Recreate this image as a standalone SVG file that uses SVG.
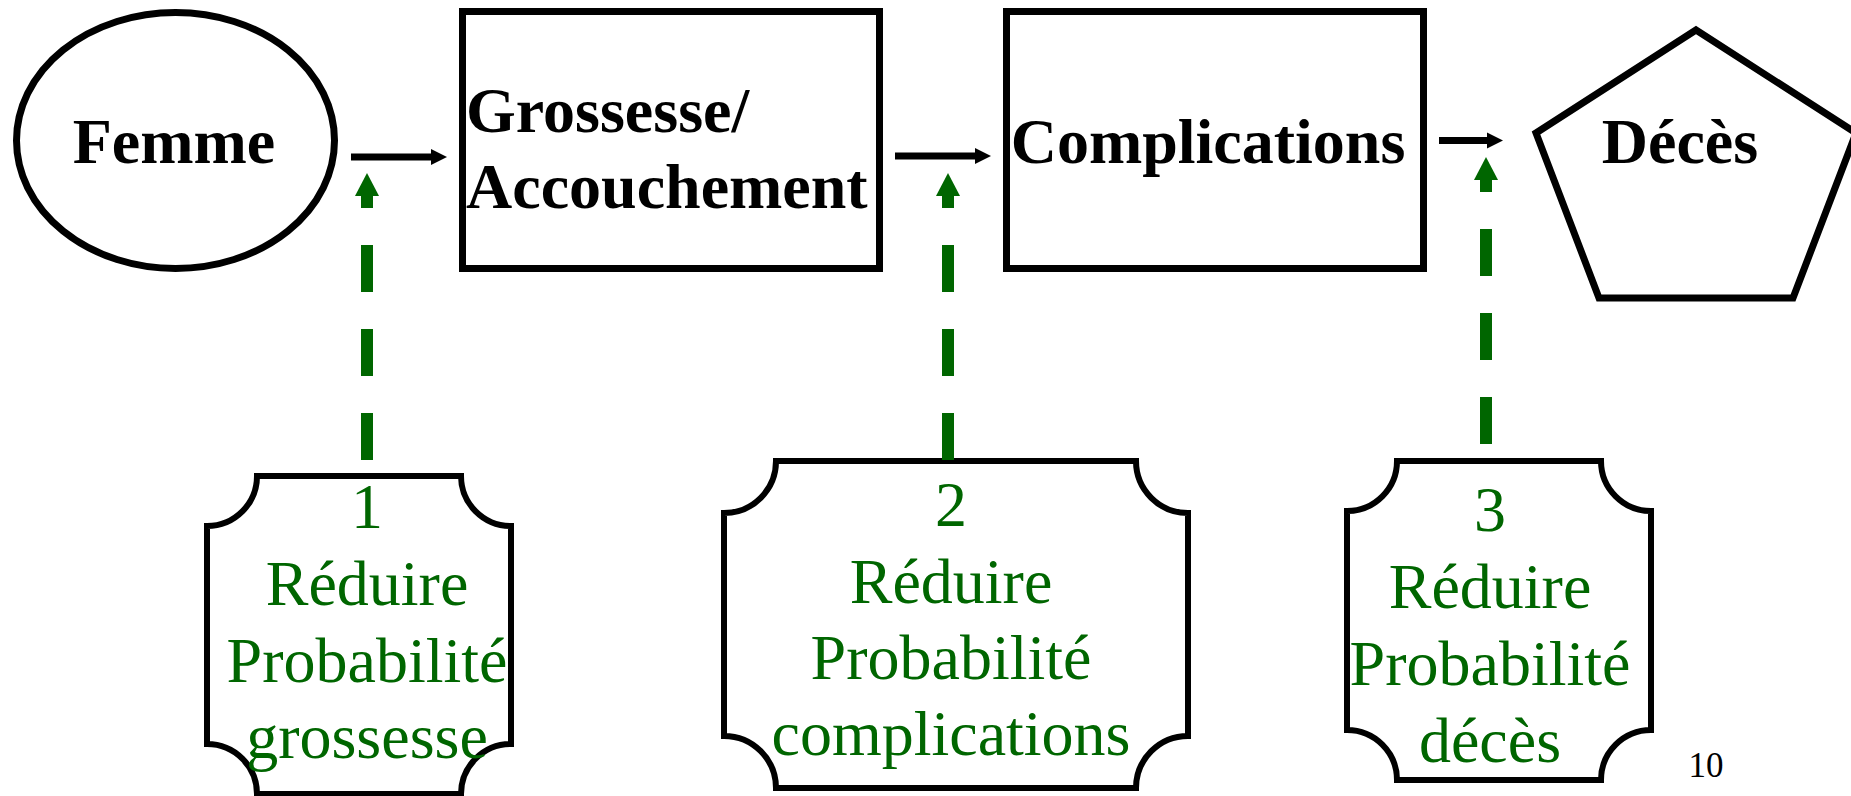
<svg xmlns="http://www.w3.org/2000/svg" width="1851" height="796" viewBox="0 0 1851 796">
<style>
.shape{fill:#ffffff;stroke:#000000;stroke-width:7}
.box{fill:#ffffff;stroke:#000000;stroke-width:6}
.title{font-family:"Liberation Serif","Times New Roman",serif;font-weight:bold;font-size:64px;fill:#000000}
.act{font-family:"Liberation Serif","Times New Roman",serif;font-size:64px;fill:#006600;text-anchor:middle}
.flow{stroke:#000000;stroke-width:7;fill:none}
.lever{stroke:#006600;stroke-width:12;fill:none;stroke-dasharray:47 37}
.pg{font-family:"Liberation Serif","Times New Roman",serif;font-size:35px;fill:#000000;text-anchor:middle}
</style>
<defs>
<marker id="ah" markerUnits="userSpaceOnUse" markerWidth="16" markerHeight="16" refX="1" refY="8" orient="auto" overflow="visible">
<path d="M0,0 L16,8 L0,16 Z" fill="#000000"/>
</marker>
<marker id="gh" markerUnits="userSpaceOnUse" markerWidth="23" markerHeight="24" refX="0" refY="12" orient="auto" overflow="visible">
<path d="M0,0 L23,12 L0,24 Z" fill="#006600"/>
</marker>
</defs>

<g id="node-femme">
<ellipse class="shape" cx="175.5" cy="140.5" rx="159" ry="128"/>
<text class="title" x="174" y="163" text-anchor="middle">Femme</text>
</g>

<g id="node-grossesse">
<rect class="shape" x="462.5" y="11.5" width="417" height="257"/>
<text class="title" x="466" y="132">Grossesse/</text>
<text class="title" x="466" y="208">Accouchement</text>
</g>

<g id="node-complications">
<rect class="shape" x="1006.5" y="11.5" width="417" height="257"/>
<text class="title" x="1208" y="163" text-anchor="middle">Complications</text>
</g>

<g id="node-deces">
<polygon class="shape" points="1696,30 1856,133 1793,298 1599,298 1536,133"/>
<text class="title" x="1680" y="163" text-anchor="middle">Décès</text>
</g>

<g id="node-action1">
<path class="box" d="M257,476 H461 A50,50 0 0 0 511,526 V744 A50,50 0 0 0 461,794 H257 A50,50 0 0 0 207,744 V526 A50,50 0 0 0 257,476 Z"/>
<text class="act" x="367" y="528">1</text>
<text class="act" x="367" y="605">Réduire</text>
<text class="act" x="367" y="682">Probabilité</text>
<text class="act" x="367" y="758">grossesse</text>
</g>

<g id="node-action2">
<path class="box" d="M776,461 H1136 A52,52 0 0 0 1188,513 V736 A52,52 0 0 0 1136,788 H776 A52,52 0 0 0 724,736 V513 A52,52 0 0 0 776,461 Z"/>
<text class="act" x="951" y="526">2</text>
<text class="act" x="951" y="603">Réduire</text>
<text class="act" x="951" y="679">Probabilité</text>
<text class="act" x="951" y="755">complications</text>
</g>

<g id="node-action3">
<path class="box" d="M1397,461 H1601 A50,50 0 0 0 1651,511 V730 A50,50 0 0 0 1601,780 H1397 A50,50 0 0 0 1347,730 V511 A50,50 0 0 0 1397,461 Z"/>
<text class="act" x="1490" y="531">3</text>
<text class="act" x="1490" y="608">Réduire</text>
<text class="act" x="1490" y="685">Probabilité</text>
<text class="act" x="1490" y="762">décès</text>
</g>

<g id="connectors">
<path class="flow" d="M351,157 H432" marker-end="url(#ah)"/>
<path class="flow" d="M895,156 H976" marker-end="url(#ah)"/>
<path class="flow" d="M1439,140.5 H1488" marker-end="url(#ah)"/>
<path class="lever" d="M367,460 V196" marker-end="url(#gh)"/>
<path class="lever" d="M948,460 V196" marker-end="url(#gh)"/>
<path class="lever" d="M1486,444 V180" marker-end="url(#gh)"/>
</g>

<text class="pg" x="1706" y="777">10</text>
</svg>
